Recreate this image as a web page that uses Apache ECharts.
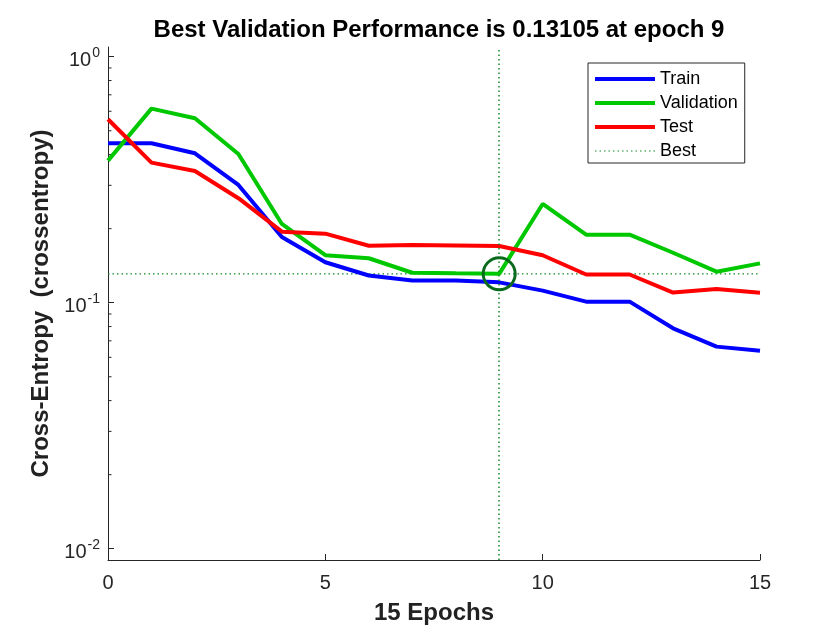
<!DOCTYPE html>
<html>
<head>
<meta charset="utf-8">
<script src="https://cdn.jsdelivr.net/npm/echarts@6/dist/echarts.min.js"></script>
<style>
  html, body { margin: 0; padding: 0; background: #fff; }
  #main { width: 840px; height: 630px; }
</style>
</head>
<body>
<div id="main"></div>
<script>
// epochs 0..15
var epochs = [0, 1, 2, 3, 4, 5, 6, 7, 8, 9, 10, 11, 12, 13, 14, 15];
var train = [0.445, 0.445, 0.405, 0.301, 0.185, 0.146, 0.129, 0.123, 0.123, 0.121, 0.112, 0.101, 0.101, 0.0787, 0.0663, 0.0638];
var validation = [0.378, 0.615, 0.562, 0.402, 0.209, 0.156, 0.1516, 0.1324, 0.1317, 0.13105, 0.252, 0.189, 0.189, 0.1596, 0.1337, 0.1445];
var test = [0.557, 0.371, 0.343, 0.266, 0.1944, 0.1908, 0.1705, 0.1717, 0.171, 0.170, 0.156, 0.1302, 0.1302, 0.1100, 0.1137, 0.1097];
var bestEpoch = 9;
var bestValue = 0.13105;
var yMajorTicks = [0.01, 0.1, 1];
var yMinorTicks = [0.02, 0.03, 0.04, 0.05, 0.06, 0.07, 0.08, 0.09, 0.2, 0.3, 0.4, 0.5, 0.6, 0.7, 0.8, 0.9];

function pairs(ys) {
    var out = [];
    for (var i = 0; i < epochs.length; i++) out.push([epochs[i], ys[i]]);
    return out;
}

var axisColor = '#262626';
var bestColor = '#138a25';
var font = '"Liberation Sans", Arial, Helvetica, sans-serif';

var myChart = echarts.init(document.getElementById('main'));

var option = {
    backgroundColor: '#fff',
    animation: false,
    textStyle: { fontFamily: font },
    title: {
        text: 'Best Validation Performance is ' + bestValue + ' at epoch ' + bestEpoch,
        left: 434,
        textAlign: 'center',
        top: 13,
        textStyle: { fontSize: 24, fontWeight: 'bold', color: '#000', fontFamily: font }
    },
    legend: {
        orient: 'vertical',
        left: 588,
        top: 63,
        padding: [7, 7, 3, 5],
        itemWidth: 60,
        itemHeight: 16,
        itemGap: 6,
        borderColor: axisColor,
        borderWidth: 1,
        backgroundColor: '#fff',
        itemStyle: { opacity: 0 },
        textStyle: { fontSize: 18, color: '#000', fontFamily: font },
        data: [
            { name: 'Train', lineStyle: { width: 4 } },
            { name: 'Validation', lineStyle: { width: 4 } },
            { name: 'Test', lineStyle: { width: 4 } },
            { name: 'Best', lineStyle: { width: 1 } }
        ]
    },
    grid: { left: 108, right: 80, top: 47, bottom: 70 },
    xAxis: {
        type: 'value',
        min: 0,
        max: 15,
        interval: 5,
        name: epochs[epochs.length - 1] + ' Epochs',
        nameLocation: 'middle',
        nameGap: 41,
        nameTextStyle: { fontSize: 24, fontWeight: 'bold', color: '#222', fontFamily: font },
        axisLine: { lineStyle: { color: axisColor, width: 1 } },
        axisTick: { inside: true, length: 6, lineStyle: { color: axisColor } },
        axisLabel: { color: axisColor, fontSize: 20, margin: 13, fontFamily: font },
        splitLine: { show: false }
    },
    yAxis: {
        type: 'log',
        logBase: 10,
        min: 0.009,
        max: 1.095,
        name: 'Cross-Entropy  (crossentropy)',
        nameLocation: 'middle',
        nameGap: 49,
        nameTextStyle: { fontSize: 24, fontWeight: 'bold', color: '#222', fontFamily: font },
        axisLine: { show: true, lineStyle: { color: axisColor, width: 1 } },
        axisTick: { inside: true, length: 6, lineStyle: { color: axisColor } },
        axisLabel: {
            margin: 8,
            showMinLabel: false,
            showMaxLabel: false,
            formatter: function (v) {
                for (var i = 0; i < yMajorTicks.length; i++) {
                    if (Math.abs(v - yMajorTicks[i]) / yMajorTicks[i] < 1e-6) {
                        var e = Math.round(Math.log(v) / Math.LN10);
                        return '{b|10}{s|' + e + '}';
                    }
                }
                return '';
            },
            rich: {
                b: { fontSize: 20, color: axisColor, fontFamily: font, padding: [8, 0, 0, 0] },
                s: { fontSize: 14, color: axisColor, fontFamily: font, verticalAlign: 'top', padding: [3, 0, 0, 1] }
            }
        },
        splitLine: { show: false }
    },
    series: [
        {
            name: 'Train', type: 'line', data: pairs(train), symbol: 'none',
            color: '#0000ff', lineStyle: { width: 4, color: '#0000ff' }, z: 4
        },
        {
            name: 'Validation', type: 'line', data: pairs(validation), symbol: 'none',
            color: '#00c800', lineStyle: { width: 4, color: '#00c800' }, z: 4
        },
        {
            name: 'Test', type: 'line', data: pairs(test), symbol: 'none',
            color: '#ff0000', lineStyle: { width: 4, color: '#ff0000' }, z: 4
        },
        {
            name: 'Best', type: 'line', data: [[0, bestValue], [15, bestValue]], symbol: 'none',
            color: bestColor, lineStyle: { width: 1.3, type: [1.5, 3], color: bestColor }, z: 3,
            markLine: {
                silent: true,
                symbol: 'none',
                label: { show: false },
                emphasis: { disabled: true },
                lineStyle: { width: 1.5, type: [1.5, 3], color: bestColor, opacity: 1 },
                data: [{ xAxis: bestEpoch }]
            }
        },
        {
            name: 'bestCircle', type: 'scatter', data: [[bestEpoch, bestValue]],
            symbol: 'circle', symbolSize: 32,
            itemStyle: { color: 'rgba(0,0,0,0)', borderColor: '#0b6b1d', borderWidth: 3, opacity: 1 },
            z: 5, silent: true
        },
        {
            name: 'minorTicks', type: 'custom', silent: true,
            data: yMinorTicks.map(function (v) { return [0, v]; }),
            renderItem: function (params, api) {
                var p = api.coord([api.value(0), api.value(1)]);
                return {
                    type: 'line',
                    shape: { x1: p[0], y1: p[1], x2: p[0] + 3.5, y2: p[1] },
                    style: { stroke: axisColor, lineWidth: 1 }
                };
            },
            z: 2
        }
    ]
};

myChart.setOption(option);
</script>
</body>
</html>
